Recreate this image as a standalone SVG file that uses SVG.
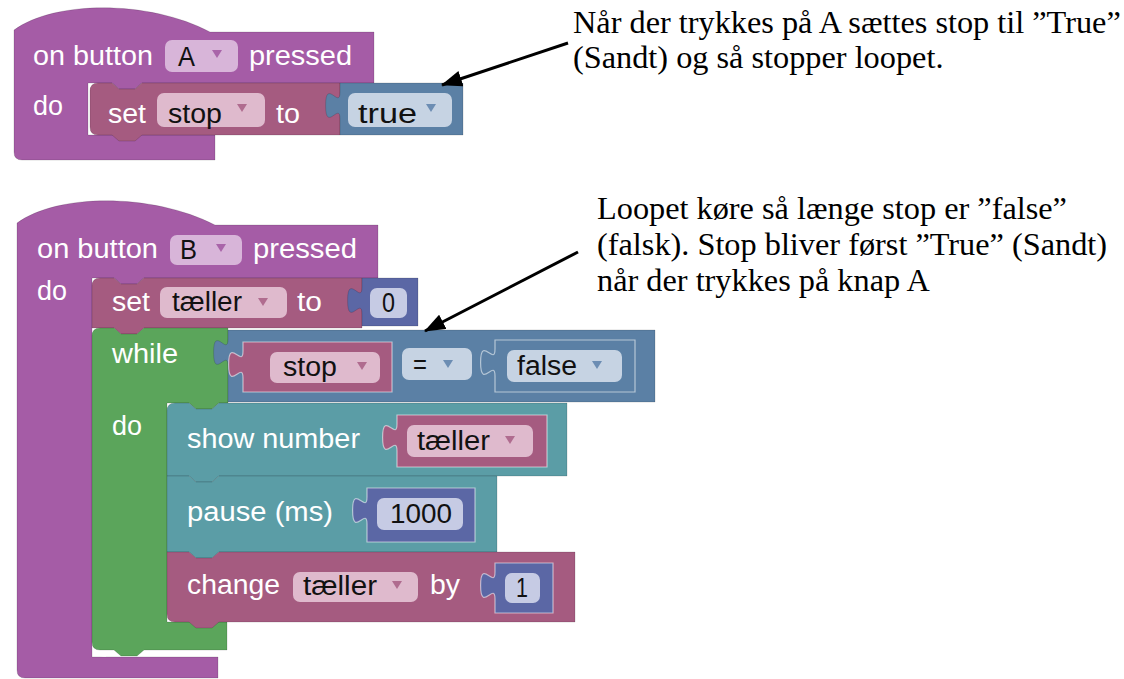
<svg xmlns="http://www.w3.org/2000/svg" width="1124" height="679" viewBox="0 0 1124 679">
<style>
.lbl{font-family:"Liberation Sans",Arial,sans-serif;font-size:27px;fill:#fff}
.fld{font-family:"Liberation Sans",Arial,sans-serif;font-size:27px;fill:#111}
.note{font-family:"Liberation Serif","Times New Roman",serif;font-size:32.3px;fill:#000}
.b{stroke:rgba(0,0,0,0.14);stroke-width:1}
.purple{fill:#A55CA6}
.var{fill:#A55B80}
.logic{fill:#5B80A5}
.math{fill:#5B67A5}
.loop{fill:#5BA55B}
.basic{fill:#5B9DA6}
.inner{stroke:rgba(255,255,255,0.55);stroke-width:1.2}
.fp{fill:#D8B5D9}
.fv{fill:#DFBACD}
.fl{fill:#C6D3E3}
.fm{fill:#C6CBE4}
.tp{fill:#A964A9}
.tv{fill:#B06C8F}
.tl{fill:#6C8DB3}
.arrow{stroke:#000;stroke-width:3;fill:none}
</style>
<defs>
<marker id="head" markerUnits="userSpaceOnUse" markerWidth="22" markerHeight="16" refX="20" refY="8" orient="auto">
<path d="M0,0 L21,8 L0,16 Z" fill="#000"/>
</marker>
</defs>
<rect width="1124" height="679" fill="#fff"/>

<!-- Event A -->
<g id="eventA">
<path class="purple b" d="M14,30 C55,0 150,0 210,32 H374 V83 H142 l-7,6 h-16 l-7,-6 H88 V135 H215 V160 H22 Q14,160 14,152 Z"/>
<text class="lbl" x="33" y="65" textLength="120" lengthAdjust="spacingAndGlyphs">on button</text>
<rect class="fp" x="165" y="40" width="73" height="32" rx="7"/>
<text class="fld" x="178" y="66" textLength="17" lengthAdjust="spacingAndGlyphs">A</text>
<path class="tp" d="M212,50 h10 l-5,8 Z"/>
<text class="lbl" x="249" y="65" textLength="103" lengthAdjust="spacingAndGlyphs">pressed</text>
<text class="lbl" x="33" y="115" textLength="30" lengthAdjust="spacingAndGlyphs">do</text>
</g>

<g id="setStop">
<path class="var b" d="M90,91 Q90,83 98,83 H112 l7,6 h16 l7,-6 H340 V135 H142 l-7,6 h-16 l-7,-6 H98 Q90,135 90,127 Z"/>
<text class="lbl" x="108" y="123" textLength="38" lengthAdjust="spacingAndGlyphs">set</text>
<rect class="fv" x="157" y="93" width="108" height="34" rx="7"/>
<text class="fld" x="168" y="123" textLength="54" lengthAdjust="spacingAndGlyphs">stop</text>
<path class="tv" d="M237,104 h10 l-5,8 Z"/>
<text class="lbl" x="276" y="123" textLength="24" lengthAdjust="spacingAndGlyphs">to</text>
</g>

<g id="trueVal">
<path class="logic b" d="M340,83 v9 c0,18 -14.4,-14.4 -14.4,13.5 s14.4,-4.5 14.4,13.5 V135 H463 V83 Z"/>
<rect class="fl" x="348" y="93" width="104" height="34" rx="7"/>
<text class="fld" x="358" y="123" textLength="59" lengthAdjust="spacingAndGlyphs">true</text>
<path class="tl" d="M426,104 h10 l-5,8 Z"/>
</g>

<!-- Event B -->
<g id="eventB">
<path class="purple b" d="M17,223 C58,193 153,193 215,225 H378 V278 H144 l-7,6 h-16 l-7,-6 H92 V657 H218 V678 H25 Q17,678 17,670 Z"/>
<path d="M93,642 Q93,656 106,656" fill="none" stroke="rgba(255,255,255,0.6)" stroke-width="2"/>
<text class="lbl" x="37" y="258" textLength="121" lengthAdjust="spacingAndGlyphs">on button</text>
<rect class="fp" x="170" y="235" width="72" height="30" rx="7"/>
<text class="fld" x="180" y="259" textLength="17" lengthAdjust="spacingAndGlyphs">B</text>
<path class="tp" d="M216,244 h10 l-5,8 Z"/>
<text class="lbl" x="253" y="258" textLength="104" lengthAdjust="spacingAndGlyphs">pressed</text>
<text class="lbl" x="37" y="300" textLength="30" lengthAdjust="spacingAndGlyphs">do</text>
</g>

<g id="setTaeller">
<path class="var b" d="M92,286 Q92,278 100,278 H114 l7,6 h16 l7,-6 H362 V328 H144 l-7,6 h-16 l-7,-6 H92 Z"/>
<text class="lbl" x="112" y="311" textLength="38" lengthAdjust="spacingAndGlyphs">set</text>
<rect class="fv" x="160" y="287" width="127" height="31" rx="7"/>
<text class="fld" x="172" y="311" textLength="70" lengthAdjust="spacingAndGlyphs">tæller</text>
<path class="tv" d="M258,298 h10 l-5,8 Z"/>
<text class="lbl" x="297" y="311" textLength="25" lengthAdjust="spacingAndGlyphs">to</text>
</g>

<g id="zero">
<path class="math b" d="M362,278 v9 c0,18 -14.4,-14.4 -14.4,13.5 s14.4,-4.5 14.4,13.5 V326 H418 V278 Z"/>
<rect class="fm" x="370" y="288" width="37" height="30" rx="7"/>
<text class="fld" x="382" y="312" textLength="13" lengthAdjust="spacingAndGlyphs">0</text>
</g>

<g id="whileLoop">
<path class="loop b" d="M92,336 Q92,328 100,328 H114 l7,6 h16 l7,-6 H228 V403 H219 l-7,6 h-16 l-7,-6 H167 V622 H227 V650 H144 l-7,6 h-16 l-7,-6 H100 Q92,650 92,642 Z"/>
<text class="lbl" x="112" y="363" textLength="66" lengthAdjust="spacingAndGlyphs">while</text>
<text class="lbl" x="112" y="435" textLength="30" lengthAdjust="spacingAndGlyphs">do</text>
</g>

<g id="compare">
<path class="logic b" d="M228,330 v9 c0,18 -14.4,-14.4 -14.4,13.5 s14.4,-4.5 14.4,13.5 V402 H655 V330 Z"/>
<rect class="fl" x="402" y="348" width="70" height="32" rx="7"/>
<text class="fld" x="413" y="374" textLength="14" lengthAdjust="spacingAndGlyphs">=</text>
<path class="tl" d="M443,360 h10 l-5,8 Z"/>
</g>

<g id="stopVar">
<path class="var inner" d="M243,342 v9 c0,18 -14.4,-14.4 -14.4,13.5 s14.4,-4.5 14.4,13.5 V392 H392 V342 Z"/>
<rect class="fv" x="270" y="352" width="110" height="31" rx="7"/>
<text class="fld" x="283" y="376" textLength="54" lengthAdjust="spacingAndGlyphs">stop</text>
<path class="tv" d="M357,362 h10 l-5,8 Z"/>
</g>

<g id="falseVal">
<path class="logic inner" d="M495,340 v9 c0,18 -14.4,-14.4 -14.4,13.5 s14.4,-4.5 14.4,13.5 V392 H635 V340 Z"/>
<rect class="fl" x="507" y="350" width="115" height="32" rx="7"/>
<text class="fld" x="517" y="375" textLength="60" lengthAdjust="spacingAndGlyphs">false</text>
<path class="tl" d="M592,361 h10 l-5,8 Z"/>
</g>

<g id="showNumber">
<path class="basic b" d="M167,411 Q167,403 175,403 H189 l7,6 h16 l7,-6 H567 V476 H219 l-7,6 h-16 l-7,-6 H167 Z"/>
<text class="lbl" x="187" y="448" textLength="173" lengthAdjust="spacingAndGlyphs">show number</text>
</g>

<g id="taellerShow">
<path class="var inner" d="M397,415 v9 c0,18 -14.4,-14.4 -14.4,13.5 s14.4,-4.5 14.4,13.5 V467 H547 V415 Z"/>
<rect class="fv" x="407" y="425" width="126" height="32" rx="7"/>
<text class="fld" x="417" y="450" textLength="73" lengthAdjust="spacingAndGlyphs">tæller</text>
<path class="tv" d="M505,436 h10 l-5,8 Z"/>
</g>

<g id="pause">
<path class="basic b" d="M167,476 H189 l7,6 h16 l7,-6 H497 V552 H219 l-7,6 h-16 l-7,-6 H167 Z"/>
<text class="lbl" x="187" y="521" textLength="146" lengthAdjust="spacingAndGlyphs">pause (ms)</text>
</g>

<g id="num1000">
<path class="math inner" d="M367,488 v9 c0,18 -14.4,-14.4 -14.4,13.5 s14.4,-4.5 14.4,13.5 V542 H475 V488 Z"/>
<rect class="fm" x="377" y="498" width="86" height="32" rx="7"/>
<text class="fld" x="390" y="523" textLength="62" lengthAdjust="spacingAndGlyphs">1000</text>
</g>

<g id="change">
<path class="var b" d="M167,552 H189 l7,6 h16 l7,-6 H575 V622 H219 l-7,6 h-16 l-7,-6 H175 Q167,622 167,614 Z"/>
<text class="lbl" x="187" y="594" textLength="93" lengthAdjust="spacingAndGlyphs">change</text>
<rect class="fv" x="293" y="572" width="125" height="30" rx="7"/>
<text class="fld" x="303" y="595" textLength="74" lengthAdjust="spacingAndGlyphs">tæller</text>
<path class="tv" d="M392,581 h10 l-5,8 Z"/>
<text class="lbl" x="430" y="594" textLength="30" lengthAdjust="spacingAndGlyphs">by</text>
</g>

<g id="num1">
<path class="math inner" d="M495,563 v9 c0,18 -14.4,-14.4 -14.4,13.5 s14.4,-4.5 14.4,13.5 V613 H553 V563 Z"/>
<rect class="fm" x="505" y="573" width="35" height="30" rx="7"/>
<text class="fld" x="516" y="597" textLength="12" lengthAdjust="spacingAndGlyphs">1</text>
</g>

<!-- Annotations -->
<g id="noteA">
<text class="note" x="573" y="33">Når der trykkes på A sættes stop til ”True”</text>
<text class="note" x="573" y="68">(Sandt) og så stopper loopet.</text>
</g>
<g id="noteB">
<text class="note" x="597" y="219">Loopet køre så længe stop er ”false”</text>
<text class="note" x="597" y="255">(falsk). Stop bliver først ”True” (Sandt)</text>
<text class="note" x="597" y="291">når der trykkes på knap A</text>
</g>

<g id="connectors">
<line class="arrow" x1="568" y1="43" x2="442" y2="85" marker-end="url(#head)"/>
<line class="arrow" x1="578" y1="252" x2="425" y2="331" marker-end="url(#head)"/>
</g>
</svg>
